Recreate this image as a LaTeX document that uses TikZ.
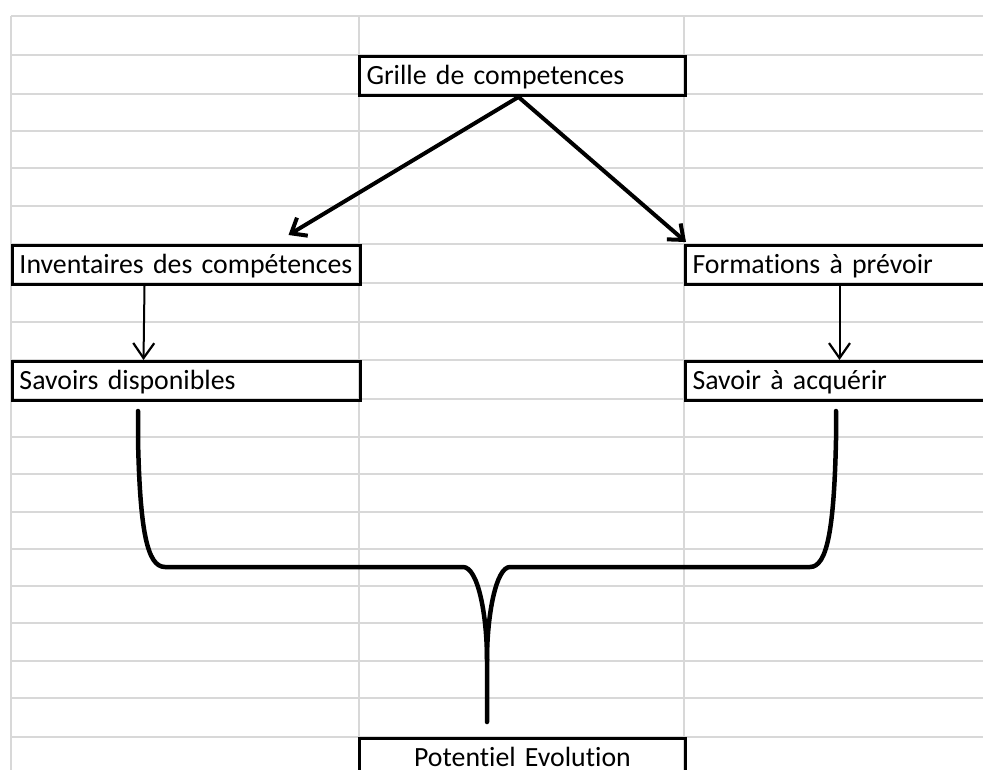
\documentclass[tikz,border=0pt]{standalone}
\usepackage{fontspec}
\setmainfont{Carlito}[Ligatures=NoCommon, WordSpace=0.85]
\usetikzlibrary{arrows.meta}
\definecolor{gridgray}{RGB}{216,216,216}
\begin{document}
\begin{tikzpicture}[x=1pt,y=-1pt,
  gridline/.style={draw=gridgray, line width=1.3pt},
  cellbox/.style={draw, line width=3pt, rectangle, anchor=north west,
    minimum height=39pt, inner ysep=0pt, inner xsep=7pt, align=left,
    font=\fontsize{27.8}{31}\selectfont, text height=20pt, text depth=3pt},
  thickarrow/.style={line width=4pt, -{Straight Barb[length=13pt,width=21pt,line width=4pt]}},
  thinarrow/.style={line width=2pt, -{Straight Barb[length=15pt,width=21pt,line width=2.2pt]}},
  bracket/.style={line width=4.5pt, line cap=round, line join=round}]
\useasboundingbox (0,0) rectangle (983,770);
\clip (0,0) rectangle (983,770);
\fill[white] (0,0) rectangle (983,770);
% spreadsheet grid
\foreach \yy in {16,55,94,131,168,206,244,283,322,360,399,437,474,512,549,586,623,661,698,737}
  \draw[gridline] (11,\yy) -- (983,\yy);
\foreach \xx in {11,359,684}
  \draw[gridline] (\xx,16) -- (\xx,770);
% boxes
\node[cellbox, text width=312pt] (g) at (358,55) {Grille de competences};
\node[cellbox, text width=334pt] (inv) at (11,244) {Inventaires des compétences};
\node[cellbox, text width=312pt] (form) at (684,244) {Formations à prévoir};
\node[cellbox, text width=334pt] (sav) at (11,360) {Savoirs disponibles};
\node[cellbox, text width=312pt] (acq) at (684,360) {Savoir à acquérir};
\node[cellbox, text width=312pt, align=center] (pot) at (358,737) {Potentiel Evolution};
% arrows
\draw[thickarrow] ([xshift=-4pt]g.south) -- ([xshift=102pt,yshift=9pt]inv.north);
\draw[thickarrow] ([xshift=-4pt]g.south) -- ([xshift=2pt,yshift=2pt]form.north west);
\draw[thinarrow] ([xshift=-42pt]inv.south) -- ([xshift=-43pt]sav.north);
\draw[thinarrow] ([xshift=-9pt]form.south) -- ([xshift=-9pt]acq.north);
% brace
\draw[bracket] (138,411) -- (138,440) .. controls (140,530) and (147,567) .. (165,567)
  -- (463,567) .. controls (478,567) and (487,615) .. (487,660) -- (487,722);
\draw[bracket] (836,411) -- (836,440) .. controls (834,530) and (827,567) .. (810,567)
  -- (510,567) .. controls (496,567) and (487,615) .. (487,660);
\end{tikzpicture}
\end{document}
